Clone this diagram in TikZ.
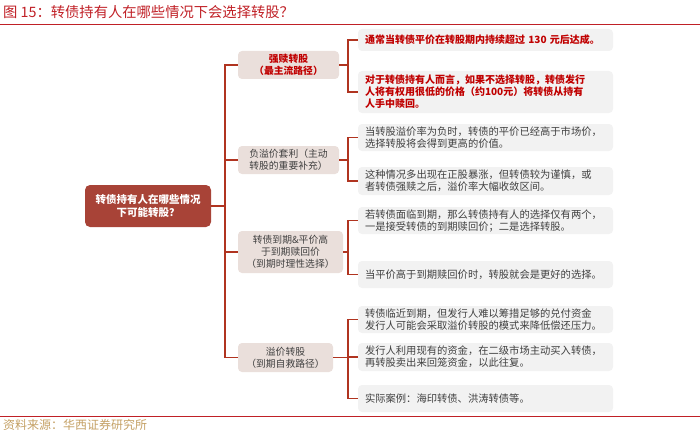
\documentclass[tikz,border=0pt]{standalone}
\usepackage{fontspec}
\setmainfont{Noto Sans CJK SC}
\definecolor{titlered}{RGB}{192,32,38}
\definecolor{rootfill}{RGB}{168,67,55}
\definecolor{linered}{RGB}{176,52,32}
\definecolor{catfill}{RGB}{234,223,219}
\definecolor{leaffill}{RGB}{242,242,242}
\definecolor{txtgray}{RGB}{64,64,64}
\definecolor{txtred}{RGB}{192,0,0}
\definecolor{srcgold}{RGB}{196,160,100}
\tikzset{
  rootbox/.style={fill=rootfill, rounded corners=5pt, text=white, font=\fontsize{10.5}{13}\selectfont\bfseries, align=center, inner sep=0pt, minimum width=126pt, minimum height=42pt},
  catbox/.style={fill=catfill, rounded corners=4pt, text=txtgray, font=\fontsize{9.8}{12}\selectfont, align=center, inner sep=0pt},
  leafbox/.style={fill=leaffill, rounded corners=4pt, text=txtgray, font=\fontsize{10.3}{12}\selectfont, align=left, text width=241pt, inner xsep=7pt, inner ysep=0pt},
  redleaf/.style={text=txtred, font=\fontsize{10}{12}\selectfont\bfseries},
  redcat/.style={text=txtred, font=\fontsize{9.8}{12}\selectfont\bfseries},
  conn/.style={draw=linered, line width=1.4pt},
}
\begin{document}
\begin{tikzpicture}[x=1pt,y=-1pt]
\useasboundingbox (0,0) rectangle (700,433);
% title and rules
\node[anchor=west, text=titlered, font=\fontsize{14.3}{16}\selectfont, inner sep=0pt] (title) at (3,12) {图 15：转债持有人在哪些情况下会选择转股？};
\draw[titlered, line width=1.5pt] (0,24.5) -- (700,24.5);
\draw[titlered, line width=1pt] (0,416.5) -- (700,416.5);
\node[anchor=west, text=srcgold, font=\fontsize{12}{14}\selectfont, inner sep=0pt] (src) at (3,425) {资料来源：华西证券研究所};
% root
\node[rootbox] (root) at (148,206) {转债持有人在哪些情况\\下可能转股？};
% categories
\node[catbox, minimum width=101pt, minimum height=28pt, redcat] (n1) at (288.5,65) {强赎转股\\（最主流路径）};
\node[catbox, minimum width=101pt, minimum height=28pt] (n2) at (288.5,160) {负溢价套利（主动\\转股的重要补充）};
\node[catbox, minimum width=105pt, minimum height=42pt] (n3) at (290.5,252) {转债到期\&平价高\\于到期赎回价\\（到期时理性选择）};
\node[catbox, minimum width=95pt, minimum height=29pt] (n4) at (285.5,357.5) {溢价转股\\（到期自救路径）};
% leaves
\node[leafbox, minimum height=22pt, redleaf] (l1a) at (485.5,40) {\mbox{通常当转债平价在转股期内持续超过 130 元后达成。}};
\node[leafbox, minimum height=42pt, redleaf] (l1b) at (485.5,92) {对于转债持有人而言，如果不选择转股，转债发行\\人将有权用很低的价格（约100元）将转债从持有\\人手中赎回。};
\node[leafbox, minimum height=27pt] (l2a) at (485.5,137.5) {当转股溢价率为负时，转债的平价已经高于市场价，\\选择转股将会得到更高的价值。};
\node[leafbox, minimum height=28pt] (l2b) at (485.5,181) {这种情况多出现在正股暴涨，但转债较为谨慎，或\\者转债强赎之后，溢价率大幅收敛区间。};
\node[leafbox, minimum height=27pt] (l3a) at (485.5,220.5) {若转债面临到期，那么转债持有人的选择仅有两个，\\一是接受转债的到期赎回价；二是选择转股。};
\node[leafbox, minimum height=27pt] (l3b) at (485.5,274.5) {当平价高于到期赎回价时，转股就会是更好的选择。};
\node[leafbox, minimum height=27pt] (l4a) at (485.5,319.5) {转债临近到期，但发行人难以筹措足够的兑付资金\\发行人可能会采取溢价转股的模式来降低偿还压力。};
\node[leafbox, minimum height=28pt] (l4b) at (485.5,357) {发行人利用现有的资金，在二级市场主动买入转债，\\再转股卖出来回笼资金，以此往复。};
\node[leafbox, minimum height=27pt] (l4c) at (485.5,398.5) {实际案例：海印转债、洪涛转债等。};
% connectors
\coordinate (trunk) at (225,0);
\coordinate (br) at (348,0);
\draw[conn] (root.east) -- (root.east -| trunk);
\draw[conn] (n1.west) -- (n1.west -| trunk) -- (n4.west -| trunk) -- (n4.west);
\draw[conn] (n2.west) -- (n2.west -| trunk);
\draw[conn] (n3.west) -- (n3.west -| trunk);
% brackets
\draw[conn] (n1.east) -- (n1.east -| br);
\draw[conn] (l1a.west) -- (l1a.west -| br) -- (l1b.west -| br) -- (l1b.west);
\draw[conn] (n2.east) -- (n2.east -| br);
\draw[conn] (l2a.west) -- (l2a.west -| br) -- (l2b.west -| br) -- (l2b.west);
\draw[conn] (n3.east) -- (n3.east -| br);
\draw[conn] (l3a.west) -- (l3a.west -| br) -- (l3b.west -| br) -- (l3b.west);
\draw[conn] (n4.east) -- (n4.east -| br);
\draw[conn] (l4a.west) -- (l4a.west -| br) -- (l4c.west -| br) -- (l4c.west);
\draw[conn] (l4b.west -| br) -- (l4b.west);
\end{tikzpicture}
\end{document}
